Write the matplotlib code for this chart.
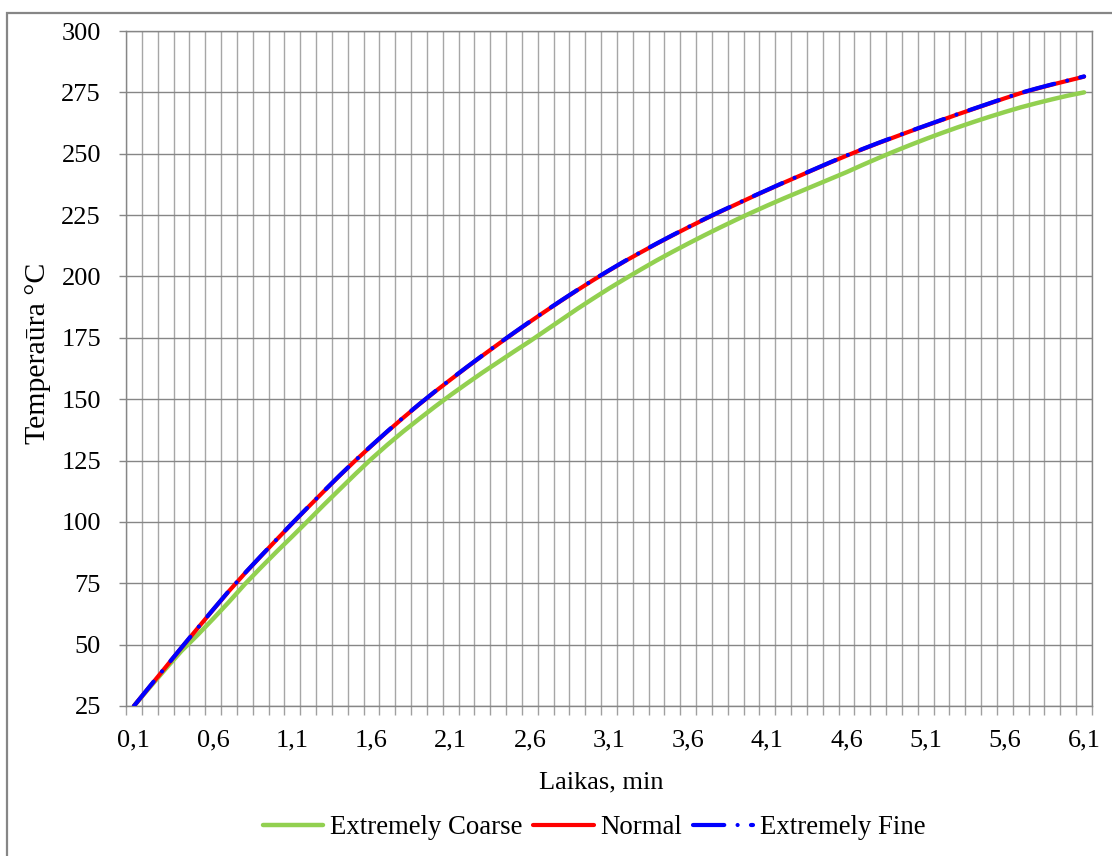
import numpy as np
import matplotlib
matplotlib.use("Agg")
import matplotlib.pyplot as plt
from matplotlib.patches import Rectangle

plt.rcParams['font.family'] = ['Liberation Serif', 'DejaVu Serif']
plt.rcParams['font.size'] = 19

# categories: time in minutes 0.1 ... 6.1
times = [round(0.1 * (i + 1), 1) for i in range(61)]
tick_labels = [f"{t:.1f}".replace('.', ',') for t in times[::5]]

coarse = [25.0, 32.6, 40.1, 47.4, 53.8, 60.5, 67.4, 74.6, 81.3, 87.8,
          94.1, 100.5, 107.0, 113.3, 119.6, 125.7, 131.4, 136.8, 141.9, 146.9,
          151.7, 156.3, 160.8, 165.1, 169.4, 173.6, 178.0, 182.4, 186.8, 191.0,
          195.1, 199.0, 202.8, 206.5, 210.0, 213.4, 216.7, 219.9, 223.0, 226.0,
          228.9, 231.7, 234.4, 237.1, 239.8, 242.5, 245.4, 248.2, 250.9, 253.5,
          256.0, 258.4, 260.7, 262.9, 265.0, 267.0, 268.9, 270.6, 272.2, 273.7,
          275.0]

normal = [25.0, 32.9, 40.8, 48.7, 56.5, 64.2, 71.8, 79.0, 85.9, 92.7,
          99.4, 106.0, 112.5, 118.9, 125.1, 131.0, 136.8, 142.4, 147.8, 153.0,
          158.0, 162.9, 167.7, 172.4, 177.0, 181.5, 185.9, 190.2, 194.4, 198.5,
          202.4, 206.2, 209.8, 213.3, 216.7, 220.0, 223.2, 226.3, 229.3, 232.3,
          235.2, 238.1, 240.9, 243.7, 246.5, 249.2, 251.8, 254.3, 256.7, 259.1,
          261.4, 263.7, 266.0, 268.2, 270.4, 272.6, 274.7, 276.5, 278.2, 279.8,
          281.4]

fine = [25.0, 33.0, 40.9, 48.8, 56.6, 64.3, 71.9, 79.1, 86.0, 92.8,
        99.5, 106.1, 112.6, 119.0, 125.2, 131.1, 136.9, 142.5, 147.9, 153.1,
        158.1, 163.0, 167.8, 172.5, 177.1, 181.6, 186.0, 190.3, 194.5, 198.6,
        202.5, 206.3, 209.9, 213.4, 216.8, 220.1, 223.3, 226.4, 229.4, 232.4,
        235.3, 238.2, 241.0, 243.8, 246.6, 249.3, 251.9, 254.4, 256.8, 259.2,
        261.5, 263.8, 266.1, 268.3, 270.5, 272.7, 274.8, 276.6, 278.3, 279.9,
        281.5]

series_names = ["Extremely Coarse", "Normal", "Extremely Fine"]
colors = ["#92D050", "#FF0000", "#0000FF"]

W, H = 1112, 856
fig = plt.figure(figsize=(W / 100, H / 100), dpi=100)
ax = fig.add_axes([126 / W, 1 - 706 / H, (1092 - 126) / W, (706 - 31) / H])

x = np.arange(len(times))
ax.plot(x, coarse, color=colors[0], lw=3.2, label=series_names[0],
        solid_capstyle='round', zorder=3)
ax.plot(x, normal, color=colors[1], lw=3.0, label=series_names[1],
        solid_capstyle='round', zorder=4)
ax.plot(x, fine, color=colors[2], lw=3.0, label=series_names[2],
        linestyle=(0, (7.5, 3.2, 0.01, 3.2)), dash_capstyle='round', zorder=5)

ax.set_xlim(-0.5, len(times) - 0.5)
ax.set_ylim(25, 300)

ax.set_xticks(x[::5])
ax.set_xticklabels(tick_labels)
ax.set_xticks(np.arange(-0.5, len(times), 1.0), minor=True)
ax.set_yticks(np.arange(25, 301, 25))

ax.tick_params(axis='x', which='major', length=0, pad=17)
ax.tick_params(axis='x', which='minor', length=6.5, width=1.0, color='#A0A0A0',
               direction='out')
ax.tick_params(axis='y', which='major', length=5, width=1.0, color='#868686',
               direction='out', pad=13)

ax.grid(True, which='minor', axis='x', color='#A6A6A6', lw=1.0)
ax.grid(True, which='major', axis='y', color='#868686', lw=1.0)
ax.grid(False, which='major', axis='x')
ax.set_axisbelow(True)

for s in ax.spines.values():
    s.set_color('#868686')
    s.set_linewidth(1.0)

fig.text(601 / W, 1 - 788 / H, "Laikas, min", ha='center', va='baseline')
fig.text(38 / W, 1 - 353 / H, "Temperaūra °C", ha='center', va='center',
         rotation=90, fontsize=21.5)

ax.legend(loc='center', bbox_to_anchor=(594 / W, 1 - 828 / H),
          bbox_transform=fig.transFigure, ncol=3, frameon=False,
          handlelength=2.26, handletextpad=0.25, columnspacing=0.4,
          borderaxespad=0, borderpad=0, fontsize=19.3)

fig.patches.append(Rectangle((7 / W, -0.1), 1.2, 1 - 13 / H + 0.1,
                             transform=fig.transFigure, fill=False,
                             edgecolor='#868686', lw=1.6, zorder=10))

fig.savefig("out.png", dpi=100)
